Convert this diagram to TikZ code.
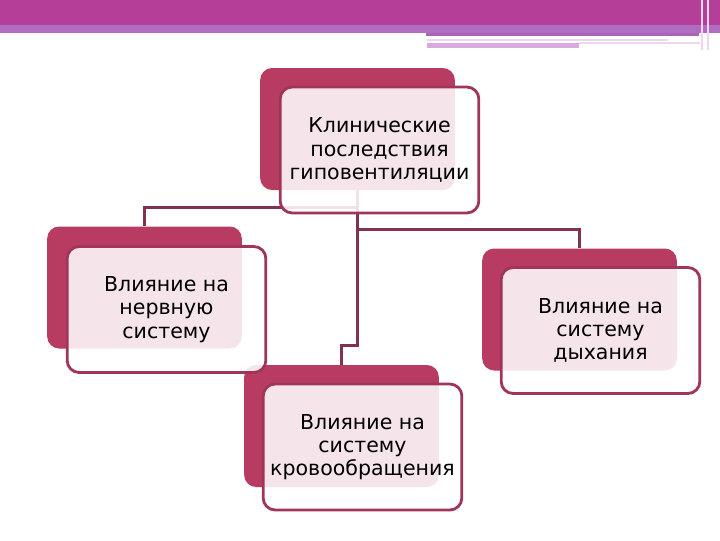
\documentclass[tikz,border=0pt]{standalone}
\usepackage{fontspec}
\setmainfont{DejaVu Sans}
\definecolor{barmagenta}{RGB}{180,62,152}
\definecolor{barlilac}{RGB}{176,108,192}
\definecolor{bandpurple}{RGB}{168,100,184}
\definecolor{paleline}{RGB}{238,214,238}
\definecolor{lavline}{RGB}{216,170,222}
\definecolor{rosedark}{RGB}{184,60,98}
\definecolor{roseedge}{RGB}{160,52,90}
\definecolor{linkmaroon}{RGB}{128,50,82}

\begin{document}
\begin{tikzpicture}[
    x=0.75pt, y=-0.75pt,
    back/.style={rectangle, rounded corners=9pt, fill=rosedark, minimum width=146pt, minimum height=91.5pt},
    front/.style={rectangle, rounded corners=9pt, draw=roseedge, line width=2.1pt, fill=white, fill opacity=0.87, text opacity=1, align=center, minimum width=149pt, minimum height=94.5pt, font=\fontsize{15.4}{17.4}\selectfont},
    link/.style={draw=linkmaroon, line width=2.3pt}
  ]
    \useasboundingbox (0,0) rectangle (720,540);
    % header band
    \fill[barmagenta] (0,0) rectangle (720,25);
    \fill[barlilac] (0,25) rectangle (720,33);
    \fill[bandpurple] (426,33) rectangle (699,36);
    \fill[paleline] (427,39) rectangle (668,41);
    \fill[lavline] (427,43) rectangle (579,48);
    \fill[paleline] (579,42) rectangle (700,44);
    \fill[paleline] (701,0) rectangle (703,50);
    \fill[paleline] (707,0) rectangle (709,50);

    \node[back] (topback) at (357.5,129) {};
    \node[back] (leftback) at (144.5,287.5) {};
    \node[back] (rightback) at (579.5,309.5) {};
    \node[back] (bottomback) at (341.5,426) {};

    \draw[link] (topback.south) -- ++(0,17) -| (leftback.north);
    \draw[link] (topback.south) -- ++(0,39) -| (rightback.north);
    \draw[link] (topback.south) -- ++(0,155) -| (bottomback.north);

    \node[front] (topfront) at ([shift={(22,21)}]topback.center) {Клинические\\последствия\\гиповентиляции};
    \node[front] (leftfront) at ([shift={(22,22)}]leftback.center) {Влияние на\\нервную\\систему};
    \node[front] (rightfront) at ([shift={(21,21)}]rightback.center) {Влияние на\\систему\\дыхания};
    \node[front] (bottomfront) at ([shift={(21,21)}]bottomback.center) {Влияние на\\систему\\кровообращения};
  \end{tikzpicture}
\end{document}
